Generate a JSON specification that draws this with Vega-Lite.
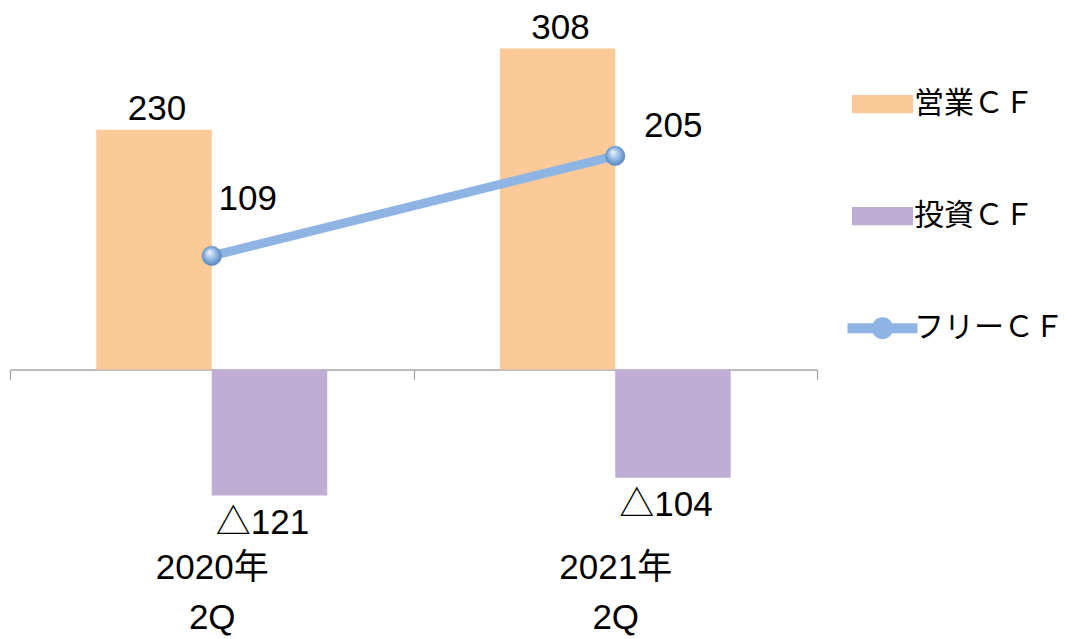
{
  "$schema": "https://vega.github.io/schema/vega-lite/v6.json",
  "width": 807,
  "height": 562.7,
  "autosize": {"type": "none"},
  "padding": {"left": 10, "top": 15.2, "right": 249, "bottom": 61.1},
  "config": {
    "view": {"stroke": null},
    "font": "Liberation Sans, Noto Sans CJK JP",
    "locale": {"number": {"decimal": ".", "thousands": ",", "grouping": [3], "currency": ["", ""], "minus": "△"}}
  },
  "datasets": {
    "bars": [
      {"period": "2020年 2Q", "series": "営業ＣＦ", "value": 230},
      {"period": "2020年 2Q", "series": "投資ＣＦ", "value": -121},
      {"period": "2021年 2Q", "series": "営業ＣＦ", "value": 308},
      {"period": "2021年 2Q", "series": "投資ＣＦ", "value": -104}
    ],
    "free": [
      {"period": "2020年 2Q", "series": "フリーＣＦ", "value": 109},
      {"period": "2021年 2Q", "series": "フリーＣＦ", "value": 205}
    ]
  },
  "encoding": {
    "x": {
      "field": "period", "type": "nominal",
      "scale": {"paddingInner": 0, "paddingOuter": 0},
      "axis": {
        "title": null, "orient": "bottom", "offset": -208.4,
        "domainColor": "#A6A6A6", "domainWidth": 1.3,
        "tickColor": "#A6A6A6", "tickSize": 10, "tickWidth": 1.3, "tickBand": "extent",
        "labelAngle": 0, "labelFontSize": 35, "labelColor": "#000000", "labelPadding": 171,
        "labelExpr": "split(datum.label, ' ')", "labelLineHeight": 50,
        "labelFont": "Liberation Sans, Noto Sans CJK JP"
      }
    },
    "y": {
      "field": "value", "type": "quantitative",
      "scale": {"domain": [-200, 340], "nice": false, "zero": false},
      "axis": null
    },
    "color": {
      "field": "series", "type": "nominal",
      "scale": {"domain": ["営業ＣＦ", "投資ＣＦ", "フリーＣＦ"], "range": ["#FCCA98", "#BFADD3", "#8EB4E3"]},
      "legend": {
        "orient": "none", "legendX": 842, "legendY": 58.5, "title": null, "padding": 0,
        "labelFontSize": 30, "labelFont": "Liberation Sans, Noto Sans CJK JP", "labelColor": "#000000",
        "labelOffset": 1, "labelLimit": 400, "rowPadding": 66, "direction": "vertical",
        "encode": {
          "symbols": {
            "update": {
              "shape": {"signal": "datum.value === 'フリーＣＦ' ? 'M-1,-0.143H1V0.143H-1Z M-0.31,0A0.31,0.31 0 1,1 0.31,0A0.31,0.31 0 1,1 -0.31,0Z' : 'M-1,-0.3H1V0.3H-1Z'"},
              "size": {"signal": "datum.value === 'フリーＣＦ' ? 4900 : 3721"},
              "fill": {"signal": "scale('color', datum.value)"},
              "stroke": {"value": "transparent"},
              "strokeWidth": {"value": 0},
              "opacity": {"value": 1},
              "fillOpacity": {"value": 1}
            }
          }
        }
      }
    }
  },
  "layer": [
    {
      "data": {"name": "bars"},
      "mark": {"type": "bar", "opacity": 1},
      "encoding": {
        "xOffset": {"field": "series", "type": "nominal", "scale": {"domain": ["営業ＣＦ", "投資ＣＦ"], "paddingOuter": 0.747, "paddingInner": 0}}
      }
    },
    {
      "data": {"name": "bars"},
      "transform": [{"filter": "datum.value > 0"}],
      "mark": {"type": "text", "baseline": "alphabetic", "align": "center", "dy": -10, "dx": 3, "fontSize": 35},
      "encoding": {
        "color": {"value": "#000000"},
        "xOffset": {"field": "series", "type": "nominal"},
        "text": {"field": "value", "type": "quantitative", "format": "d"}
      }
    },
    {
      "data": {"name": "bars"},
      "transform": [{"filter": "datum.value < 0"}],
      "mark": {"type": "text", "baseline": "alphabetic", "align": "center", "dy": 38, "dx": -7, "fontSize": 35},
      "encoding": {
        "color": {"value": "#000000"},
        "xOffset": {"field": "series", "type": "nominal"},
        "text": {"field": "value", "type": "quantitative", "format": "d"}
      }
    },
    {
      "data": {"name": "free"},
      "mark": {"type": "line", "strokeWidth": 9, "strokeCap": "butt"}
    },
    {
      "data": {"name": "free"},
      "mark": {
        "type": "point", "filled": true, "size": 380, "opacity": 1, "shape": "circle",
        "fill": {"gradient": "radial", "x1": 0.38, "y1": 0.3, "r1": 0.02, "x2": 0.5, "y2": 0.5, "r2": 0.55,
          "stops": [{"offset": 0, "color": "#EAF3FD"}, {"offset": 0.55, "color": "#8DB4E2"}, {"offset": 1, "color": "#4E7DB5"}]},
        "stroke": "#6A93C8", "strokeWidth": 0.6
      },
      "encoding": {"color": {"value": "#8DB4E2"}}
    },
    {
      "data": {"name": "free"},
      "transform": [{"filter": "datum.period === '2020年 2Q'"}],
      "mark": {"type": "text", "baseline": "alphabetic", "align": "center", "dx": 36, "dy": -46, "fontSize": 35},
      "encoding": {"color": {"value": "#000000"}, "text": {"field": "value", "type": "quantitative", "format": "d"}}
    },
    {
      "data": {"name": "free"},
      "transform": [{"filter": "datum.period === '2021年 2Q'"}],
      "mark": {"type": "text", "baseline": "alphabetic", "align": "center", "dx": 58, "dy": -19, "fontSize": 35},
      "encoding": {"color": {"value": "#000000"}, "text": {"field": "value", "type": "quantitative", "format": "d"}}
    }
  ]
}
